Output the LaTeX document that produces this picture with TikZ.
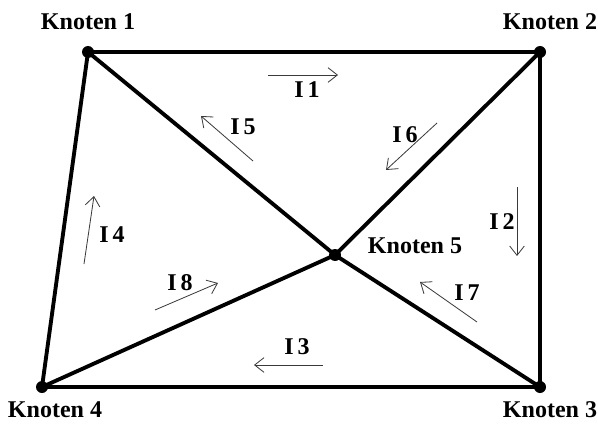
\documentclass[tikz,border=0pt]{standalone}
\usepackage{fontspec}
\setmainfont{Liberation Serif}
\usetikzlibrary{arrows.meta}
\definecolor{wire}{HTML}{000000}
\definecolor{flow}{HTML}{3A3A3A}

\begin{document}
\begin{tikzpicture}[x=0.03cm, y=-0.03cm,
    every node/.style={font=\fontsize{20.5}{24}\selectfont\bfseries},
    knot/.style={circle, fill=wire, inner sep=0pt, minimum size=0.36cm},
    branch/.style={line width=3.3pt, color=wire},
    current/.style={-{Straight Barb[length=2.8mm, width=4.4mm]}, line width=0.7pt, color=flow}]
    \useasboundingbox (0,0) rectangle (598,426);
    % knots
    \node[knot] (k1) at (88,52) {};
    \node[knot] (k2) at (540,52) {};
    \node[knot] (k3) at (540,387) {};
    \node[knot] (k4) at (42,387) {};
    \node[knot] (k5) at (335,255) {};
    \node (l1) at (88,22) {Knoten 1};
    \node (l2) at (550,22) {Knoten 2};
    \node (l3) at (550,410) {Knoten 3};
    \node (l4) at (55,410) {Knoten 4};
    \node (l5) at (415,246) {Knoten 5};
    % branches
    \draw[branch] (k1.center) -- (k2.center) -- (k3.center) -- (k4.center) -- cycle;
    \draw[branch] (k1.center) -- (k5.center) -- (k3.center);
    \draw[branch] (k2.center) -- (k5.center) -- (k4.center);
    % currents
    \coordinate (a1) at (268,75);  \coordinate (b1) at (338,75);
    \coordinate (a2) at (517,187); \coordinate (b2) at (517,256);
    \coordinate (a3) at (323,365); \coordinate (b3) at (254,365);
    \coordinate (a4) at (84,264);  \coordinate (b4) at (94,196);
    \coordinate (a5) at (253,161); \coordinate (b5) at (201,116);
    \coordinate (a6) at (437,123); \coordinate (b6) at (386,170);
    \coordinate (a7) at (477,322); \coordinate (b7) at (420,282);
    \coordinate (a8) at (155,310); \coordinate (b8) at (218,283);
    \draw[current] (a1) -- (b1);
    \draw[current] (a2) -- (b2);
    \draw[current] (a3) -- (b3);
    \draw[current] (a4) -- (b4);
    \draw[current] (a5) -- (b5);
    \draw[current] (a6) -- (b6);
    \draw[current] (a7) -- (b7);
    \draw[current] (a8) -- (b8);
    \node (i1) at (307,90) {I\,1};
    \node (i2) at (502,222) {I\,2};
    \node (i3) at (297,347) {I\,3};
    \node (i4) at (112,235) {I\,4};
    \node (i5) at (243,127) {I\,5};
    \node (i6) at (405,135) {I\,6};
    \node (i7) at (467,293) {I\,7};
    \node (i8) at (180,283) {I\,8};
\end{tikzpicture}
\end{document}
